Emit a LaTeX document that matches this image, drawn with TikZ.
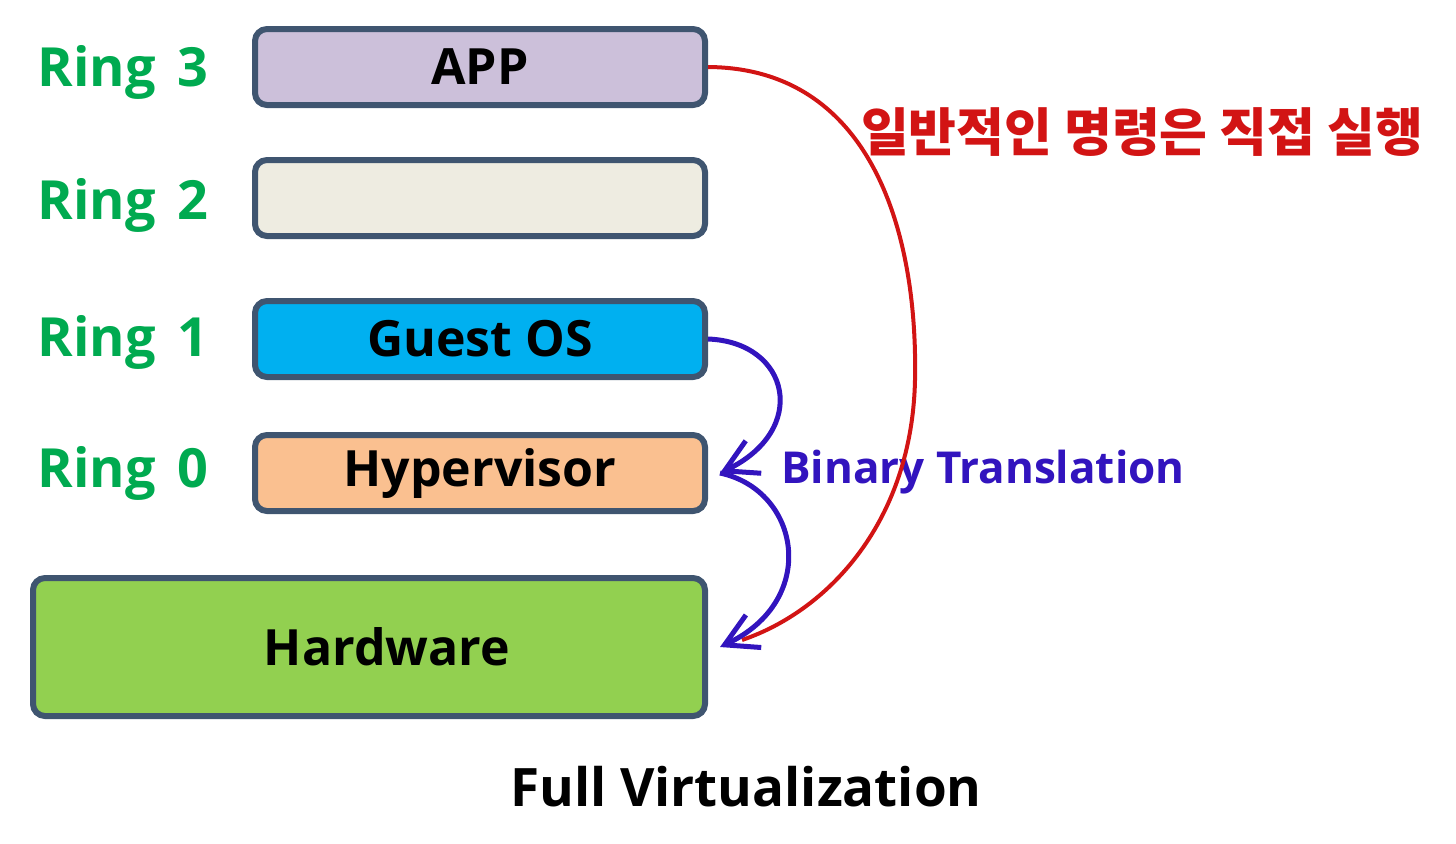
\documentclass[tikz,border=0pt]{standalone}
\usepackage{fontspec}
\setmainfont{Open Sans}
\newfontfamily\kofont{Noto Sans CJK KR}
\usetikzlibrary{arrows.meta,calc}
\definecolor{ringgreen}{RGB}{0,170,80}
\definecolor{bordc}{RGB}{63,85,112}
\definecolor{appc}{RGB}{204,192,218}
\definecolor{r2c}{RGB}{238,236,225}
\definecolor{guestc}{RGB}{0,176,240}
\definecolor{hypc}{RGB}{250,192,144}
\definecolor{hwc}{RGB}{146,208,80}
\definecolor{redc}{RGB}{210,20,20}
\definecolor{bluec}{RGB}{50,20,190}
\newcommand\ringtxt[1]{Ring\hskip 11pt #1}
\begin{document}
\begin{tikzpicture}[x=0.5pt,y=0.5pt,
  layer/.style={draw=bordc,line width=3pt,rounded corners=6pt,minimum width=225pt,minimum height=38pt,inner sep=0pt,font=\bfseries\fontsize{25}{28}\selectfont},
  ringlab/.style={text=ringgreen,font=\bfseries\fontsize{27}{30}\selectfont,inner sep=0pt},
  bluearrow/.style={draw=bluec,line width=2.5pt,-{Straight Barb[length=16pt,width=18pt,line width=2.5pt]}},
  redarrow/.style={draw=redc,line width=2pt}]
\useasboundingbox (0,0) rectangle (1456,-843);
\node[layer,fill=appc] (app) at (480,-67) {APP};
\node[layer,fill=r2c] (r2) at (480,-198) {};
\node[layer,fill=guestc] (guest) at (480,-339) {Guest OS};
\node[layer,fill=hypc] (hyp) at (480,-473) {Hypervisor};
\node[layer,fill=hwc,minimum width=336pt,minimum height=69pt] (hw) at (369,-647) {\hspace*{18pt}Hardware};
\node[ringlab] (l3) at (123,-72) {\ringtxt{3}};
\node[ringlab] (l2) at (123,-205) {\ringtxt{2}};
\node[ringlab] (l1) at (123,-342) {\ringtxt{1}};
\node[ringlab] (l0) at (123,-473) {\ringtxt{0}};
\node[text=redc,font=\kofont\bfseries\fontsize{26}{30}\selectfont,inner sep=0pt] (ko) at (1142,-132) {일반적인 명령은 직접 실행};
\node[text=bluec,font=\bfseries\fontsize{22}{26}\selectfont,inner sep=0pt] (bt) at (983,-472) {Binary Translation};
\node[font=\bfseries\fontsize{26.5}{30}\selectfont,inner sep=0pt] (fv) at (746,-787) {Full Virtualization};
\coordinate (htip) at ($(hyp.east)+(12,0)$);
\coordinate (hwtip) at ($(hw.east)+(12,0)$);
\coordinate (rmid) at (915,-380);
\coordinate (rend) at (742,-640);
\draw[redarrow] (app.east) .. controls (870,-68) and (918,-230) .. (rmid) .. controls (912,-520) and (830,-610) .. (rend);
\draw[bluearrow] (guest.east) .. controls (790,-342) and (810,-430) .. (htip);
\draw[bluearrow] (htip) .. controls (800,-490) and (820,-600) .. (hwtip);
\end{tikzpicture}
\end{document}
